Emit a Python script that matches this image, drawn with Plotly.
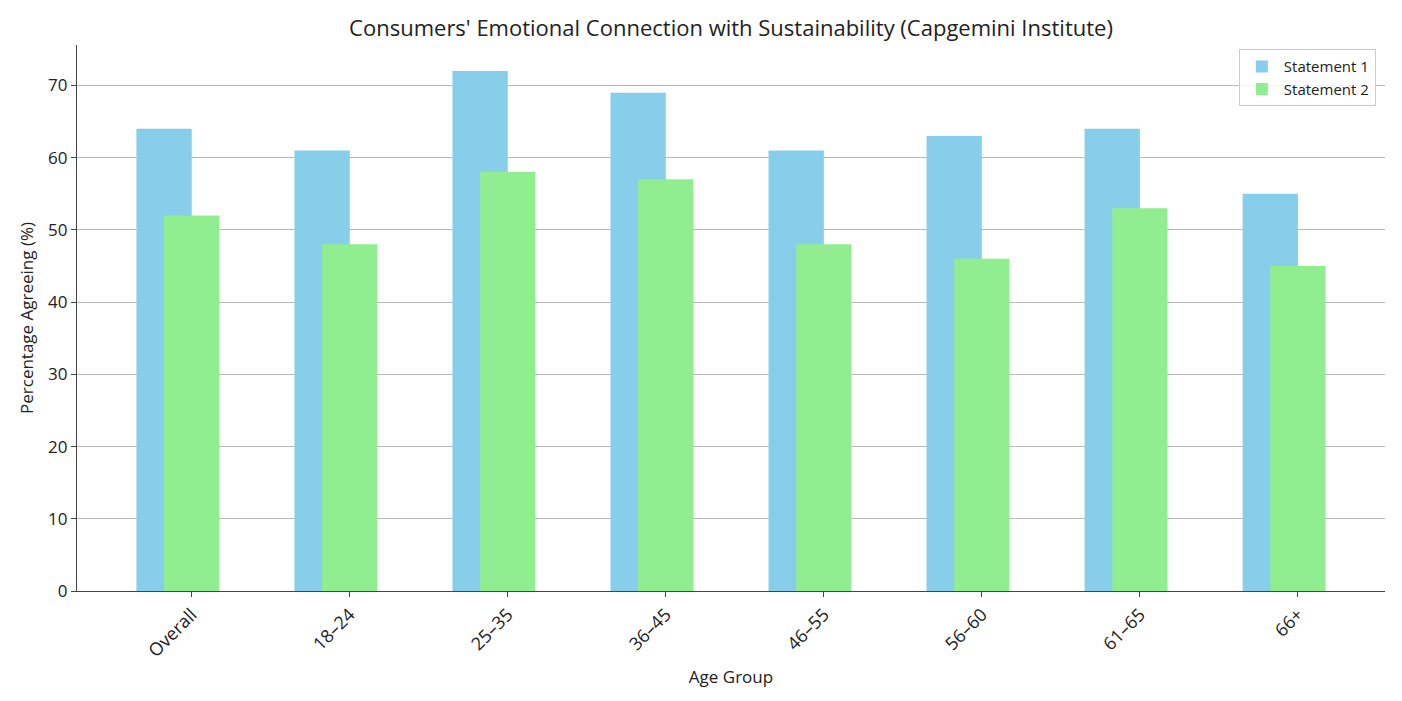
import plotly.graph_objects as go

categories = ["Overall", "18–24", "25–35", "36–45", "46–55", "56–60", "61–65", "66+"]
statement1 = [64, 61, 72, 69, 61, 63, 64, 55]
statement2 = [52, 48, 58, 57, 48, 46, 53, 45]
y_ticks = [0, 10, 20, 30, 40, 50, 60, 70]

xpos = list(range(len(categories)))
W = 0.35

fig = go.Figure()
fig.add_trace(go.Bar(x=xpos, y=statement1, name="Statement 1", width=W, offset=-W,
                     marker=dict(color="#87CEEB", line=dict(width=0))))
fig.add_trace(go.Bar(x=xpos, y=statement2, name="Statement 2", width=W, offset=-W / 2,
                     marker=dict(color="#90EE90", line=dict(width=0))))

font_family = "'Open Sans', Roboto, sans-serif"
H = 685
fig.update_layout(
    width=1386, height=H,
    barmode="overlay",
    plot_bgcolor="white", paper_bgcolor="white",
    margin=dict(l=69, r=9, t=37, b=102, autoexpand=False),
    font=dict(family=font_family, color="#222222"),
    title=dict(text="Consumers' Emotional Connection with Sustainability (Capgemini Institute)",
               x=0.5, xref="paper", xanchor="center", yref="container", y=1 - 20 / H,
               yanchor="middle", font=dict(size=22, color="#222222")),
    legend=dict(x=0.993, y=0.992, xanchor="right", yanchor="top",
                bgcolor="rgba(255,255,255,0.85)", bordercolor="#cccccc", borderwidth=1,
                font=dict(size=15), itemwidth=34),
    xaxis=dict(range=[-0.726, 7.551], tickmode="array", tickvals=xpos, ticktext=categories,
               tickangle=-45, ticks="outside", ticklen=5, tickcolor="#444444",
               showline=True, linecolor="#444444", linewidth=1.2, automargin=False,
               showgrid=False, zeroline=False, tickfont=dict(size=18),
               title=dict(text="Age Group", font=dict(size=17), standoff=10)),
    yaxis=dict(range=[0, 75.6], tickmode="array", tickvals=y_ticks,
               ticks="outside", ticklen=5, tickcolor="#444444",
               showline=True, linecolor="#444444", linewidth=1.2, automargin=False,
               showgrid=True, gridcolor="#b8b8b8", gridwidth=1, zeroline=False,
               tickfont=dict(size=17),
               title=dict(text="Percentage Agreeing (%)", font=dict(size=17), standoff=10)),
)

fig.write_html("out.html")
